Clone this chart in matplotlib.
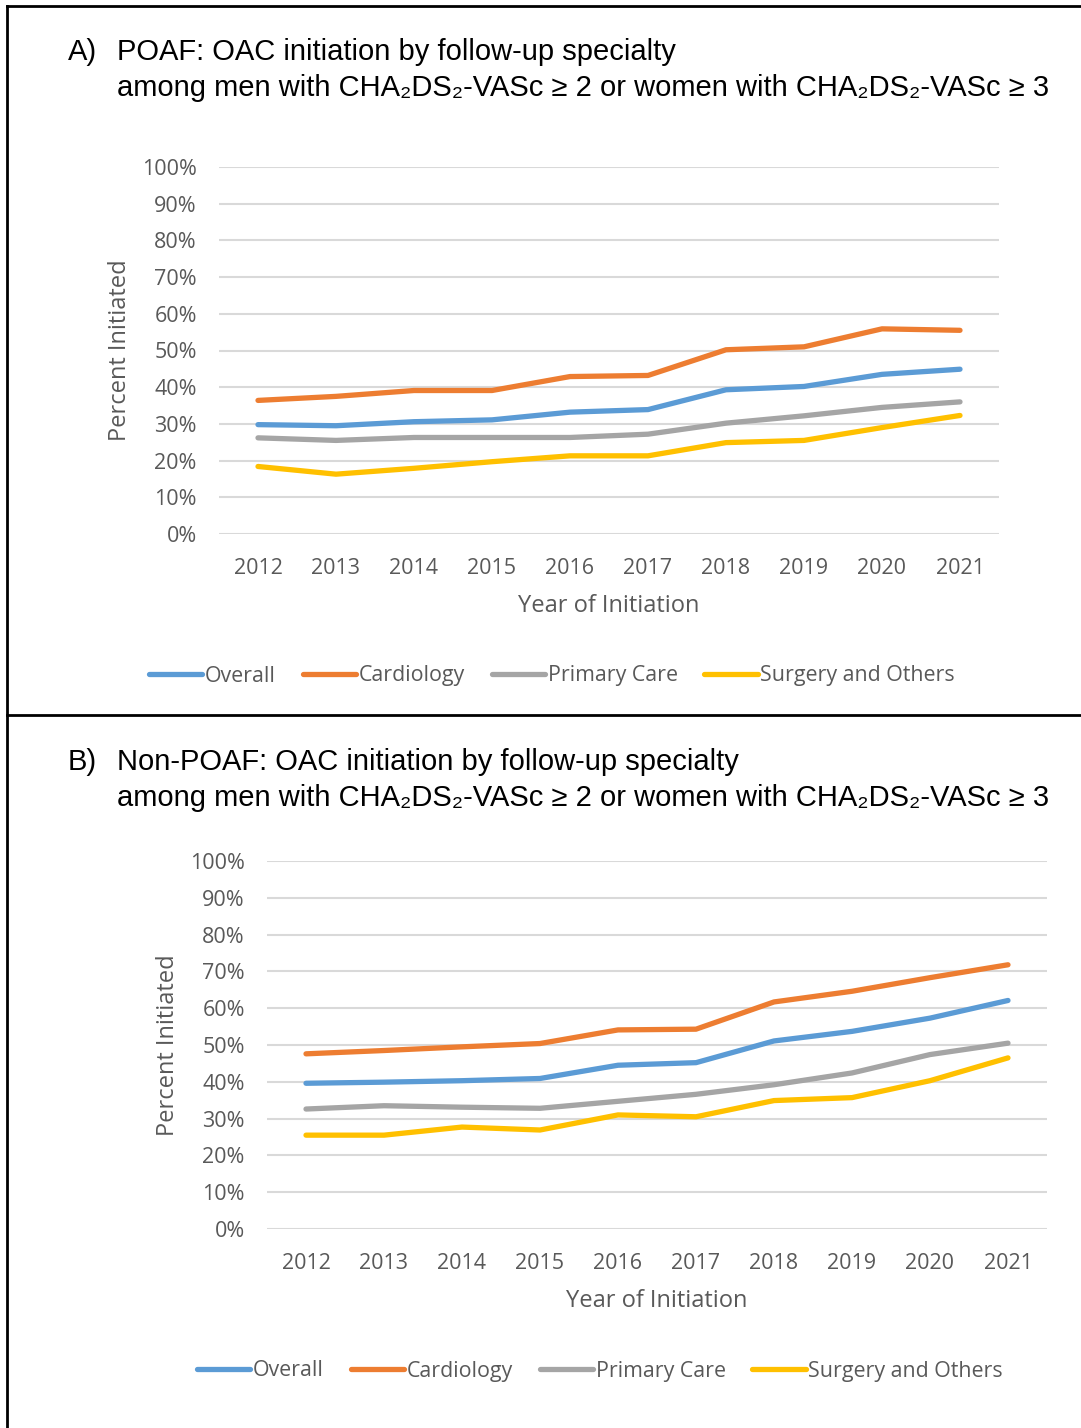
import matplotlib
matplotlib.use('Agg')
import matplotlib.pyplot as plt
from matplotlib.lines import Line2D
from matplotlib.ticker import PercentFormatter

years = ['2012', '2013', '2014', '2015', '2016', '2017', '2018', '2019', '2020', '2021']
series_names = ['Overall', 'Cardiology', 'Primary Care', 'Surgery and Others']
colors = ['#5B9BD5', '#ED7D31', '#A5A5A5', '#FFC000']

# panel A: POAF
poaf_overall = [29.8, 29.5, 30.6, 31.1, 33.2, 33.9, 39.3, 40.2, 43.5, 44.9]
poaf_cardiology = [36.4, 37.5, 39.1, 39.1, 42.9, 43.2, 50.2, 51.0, 55.9, 55.5]
poaf_primary = [26.2, 25.5, 26.3, 26.3, 26.3, 27.2, 30.2, 32.2, 34.5, 36.0]
poaf_surgery = [18.4, 16.3, 17.9, 19.7, 21.3, 21.3, 24.9, 25.5, 29.0, 32.3]

# panel B: Non-POAF
nonpoaf_overall = [39.6, 39.9, 40.3, 40.9, 44.5, 45.2, 51.1, 53.7, 57.3, 62.1]
nonpoaf_cardiology = [47.6, 48.5, 49.5, 50.4, 54.1, 54.3, 61.7, 64.6, 68.3, 71.8]
nonpoaf_primary = [32.6, 33.5, 33.1, 32.8, 34.7, 36.6, 39.2, 42.4, 47.4, 50.5]
nonpoaf_surgery = [25.5, 25.5, 27.7, 26.9, 31.0, 30.5, 34.9, 35.7, 40.3, 46.5]

W, H = 1081, 1428
fig = plt.figure(figsize=(W / 100, H / 100), dpi=100)

tick_font = 'Open Sans'
title_font = ['Liberation Sans', 'DejaVu Sans']
grey_text = '#595959'


def px(x, y):
    return x / W, 1 - y / H


def draw_panel(left, top, bottom, data, letter, line1, title_y, ylab_x, legend_y):
    l, t = px(left, top)
    _, b = px(left, bottom)
    ax = fig.add_axes([l, b, 780 / W, t - b])
    x = list(range(len(years)))
    for vals, name, c in zip(data, series_names, colors):
        ax.plot(x, vals, color=c, lw=3.8, label=name, solid_capstyle='round')
    ax.set_xlim(-0.5, len(years) - 0.5)
    ax.set_ylim(0, 100)
    ax.set_yticks(range(0, 101, 10))
    ax.yaxis.set_major_formatter(PercentFormatter(decimals=0))
    ax.set_xticks(x)
    ax.set_xticklabels(years)
    ax.grid(axis='y', color='#D9D9D9', lw=1.5)
    ax.set_axisbelow(True)
    for s in ax.spines.values():
        s.set_visible(False)
    ax.tick_params(length=0, labelsize=15.5, labelcolor=grey_text)
    ax.tick_params(axis='y', pad=16)
    ax.tick_params(axis='x', pad=17)
    for lab in ax.get_xticklabels() + ax.get_yticklabels():
        lab.set_fontfamily(tick_font)

    cx = left + 390
    fig.text(*px(cx, bottom + 72), 'Year of Initiation', ha='center', va='center',
             fontsize=17, color=grey_text, family=tick_font)
    fig.text(*px(ylab_x, (top + bottom) / 2), 'Percent Initiated', ha='center', va='center',
             rotation=90, fontsize=17, color=grey_text, family=tick_font)

    leg = ax.legend(loc='center', bbox_to_anchor=px(cx - 57, legend_y + 1),
                    bbox_transform=fig.transFigure, ncol=4, frameon=False,
                    handlelength=2.5, handletextpad=0.12, columnspacing=1.25,
                    prop={'family': tick_font, 'size': 15.4})
    for txt in leg.get_texts():
        txt.set_color(grey_text)

    fig.text(*px(68, title_y), letter, ha='left', va='center', fontsize=21, family=title_font)
    fig.text(*px(117, title_y), line1, ha='left', va='center', fontsize=21, family=title_font)
    fig.text(*px(117, title_y + 36),
             'among men with CHA\u2082DS\u2082-VASc \u2265 2 or women with CHA\u2082DS\u2082-VASc \u2265 3',
             ha='left', va='center', fontsize=21, family=title_font)
    return ax


draw_panel(219, 167, 534, [poaf_overall, poaf_cardiology, poaf_primary, poaf_surgery],
           'A)', 'POAF: OAC initiation by follow-up specialty', 52, 120, 675)
draw_panel(267, 861, 1229, [nonpoaf_overall, nonpoaf_cardiology, nonpoaf_primary, nonpoaf_surgery],
           'B)', 'Non-POAF: OAC initiation by follow-up specialty', 762, 168, 1370)

# frame lines around the panels
fig.add_artist(Line2D([7 / W, 7 / W], [0, 1 - 5.5 / H], transform=fig.transFigure, color='black', lw=2))
fig.add_artist(Line2D([7 / W, 1], [1 - 5.5 / H, 1 - 5.5 / H], transform=fig.transFigure, color='black', lw=2))
fig.add_artist(Line2D([7 / W, 1], [1 - 715 / H, 1 - 715 / H], transform=fig.transFigure, color='black', lw=2))

fig.savefig('out.png', dpi=100)
